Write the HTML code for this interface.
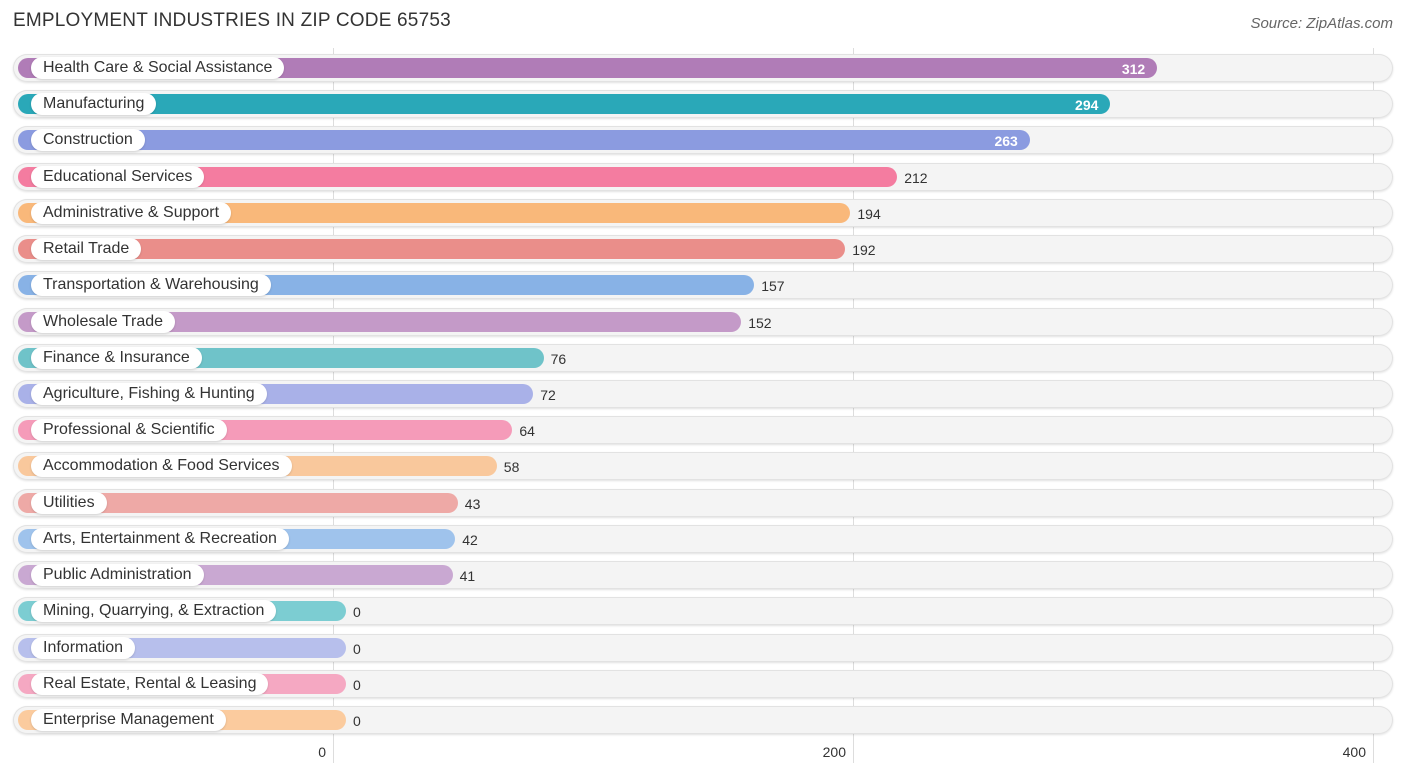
<!DOCTYPE html>
<html><head><meta charset="utf-8"><style>
body{margin:0;width:1406px;height:776px;background:#fff;font-family:"Liberation Sans",sans-serif;position:relative;overflow:hidden}
.abs{position:absolute}
.title{left:13px;top:10px;font-size:19px;color:#333;letter-spacing:0.2px}
.src{right:13px;top:15px;font-size:15px;color:#666;font-style:italic}
.row{left:13px;width:1380px;height:28px;border-radius:14px;background:#f4f4f4;box-shadow:inset 0 0 0 1px #e2e2e2, 0 1px 2px rgba(0,0,0,0.12)}
.bar{height:20px;border-radius:10px;left:18px}
.lab{height:22px;border-radius:11px;background:#fff;font-size:16px;color:#333;line-height:22px;padding:0 12px;left:31px;white-space:nowrap;box-shadow:0 1px 2px rgba(0,0,0,0.15)}
.val{font-size:14px;line-height:20px;color:#333}
.grid{width:1px;top:48px;height:715px;background:#ddd}
.tick{top:744px;font-size:14px;color:#333}
</style></head><body>
<div class="abs title">EMPLOYMENT INDUSTRIES IN ZIP CODE 65753</div>
<div class="abs src">Source: ZipAtlas.com</div>
<div id="chart"></div>
<script>
const categories=["Health Care & Social Assistance","Manufacturing","Construction","Educational Services","Administrative & Support","Retail Trade","Transportation & Warehousing","Wholesale Trade","Finance & Insurance","Agriculture, Fishing & Hunting","Professional & Scientific","Accommodation & Food Services","Utilities","Arts, Entertainment & Recreation","Public Administration","Mining, Quarrying, & Extraction","Information","Real Estate, Rental & Leasing","Enterprise Management"];
const values=[312,294,263,212,194,192,157,152,76,72,64,58,43,42,41,0,0,0,0];
const tickValues=[0,200,400];
const colors=["#b07cb7","#2aa8b8","#8b9be0","#f47ca0","#f9b87a","#ea8e8a","#88b2e6","#c49ac8","#6fc3c9","#a9b1e8","#f59bb9","#f9c89c","#eea9a6","#9fc3ec","#c9a8d2","#7ccdd2","#b7bfec","#f5a8c2","#fbcb9e"];
const c=document.getElementById('chart');
const x0=333,scale=2.6,barBase=346;
function xv(v){return x0+v*scale;}
function barEnd(v){return barBase+v*scale;}
tickValues.forEach(t=>{
 const g=document.createElement('div');g.className='abs grid';g.style.left=xv(t)+'px';
 
 
 c.appendChild(g);
});
categories.forEach((cat,i)=>{
 const cy=68+i*36.22;
 const r=document.createElement('div');r.className='abs row';r.style.top=(cy-14)+'px';
 
 
 c.appendChild(r);
 const b=document.createElement('div');b.className='abs bar';b.style.top=(cy-10)+'px';
 b.style.width=(barEnd(values[i])-18)+'px';b.style.background=colors[i];
 
 
 c.appendChild(b);
 const l=document.createElement('div');l.className='abs lab';l.style.top=(cy-11)+'px';l.textContent=cat;
 
 
 c.appendChild(l);
 const v=document.createElement('div');v.className='abs val';v.style.top=(cy-9)+'px';v.textContent=values[i];
 
 
 if(values[i]>250){v.style.right=(1406-barEnd(values[i])+12)+'px';v.style.color='#fff';v.style.fontWeight='bold';}
 else v.style.left=(barEnd(values[i])+7)+'px';
 c.appendChild(v);
});
tickValues.forEach(t=>{
 const k=document.createElement('div');k.className='abs tick';k.textContent=t;
 k.style.right=(1406-xv(t)+7)+'px';
 
 
 c.appendChild(k);
});
</script>
</body></html>
